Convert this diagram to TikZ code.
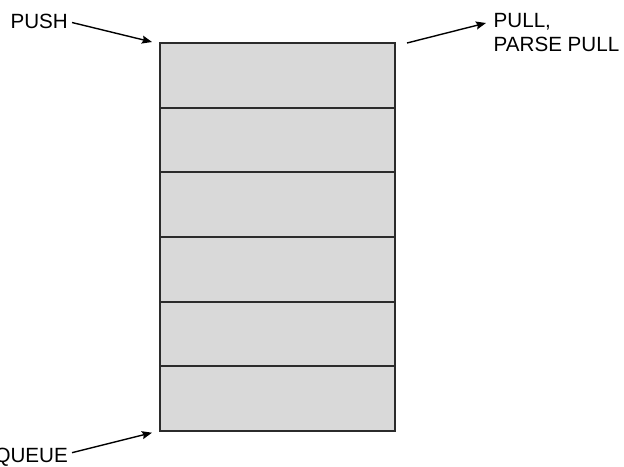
\documentclass[tikz,border=0pt]{standalone}
\usepackage{fontspec}
\setmainfont{Liberation Sans}
\usetikzlibrary{arrows.meta}
\definecolor{cellfill}{HTML}{D9D9D9}
\definecolor{cellline}{HTML}{2B2B2B}
\tikzset{
  cell/.style={fill=cellfill, rectangle, minimum width=235pt, minimum height=64.67pt, inner sep=0pt, outer sep=0pt},
  cellborder/.style={draw=cellline, line width=1.8pt},
  lbl/.style={inner sep=0pt, font=\fontsize{20.6}{24}\selectfont},
  ptr/.style={line width=1.4pt, -{Stealth[length=10pt,width=8pt,inset=1.5pt]}}
}
\begin{document}
\begin{tikzpicture}[x=1pt,y=-1pt]
\useasboundingbox (0,0) rectangle (624,466);
\foreach \i in {1,...,6} {
  \node[cell] (r\i) at (277.5, {43+64.67*(\i-0.5)}) {};
}
\foreach \i in {1,...,6} {
  \draw[cellborder] (r\i.north west) rectangle (r\i.south east);
}
\node[lbl, anchor=base east] (push) at (68,28.3) {PUSH};
\node[lbl, anchor=base east] (queue) at (68,462) {QUEUE};
\node[lbl, anchor=north west, align=left] (pull) at (493.5,13.5) {PULL,\\PARSE PULL};
\coordinate (pushstart) at (72,22.5);
\coordinate (pushend) at (152,42);
\coordinate (pullstart) at (407,43);
\coordinate (pulltip) at (486,23);
\coordinate (queuestart) at (72,452.7);
\coordinate (queueend) at (152,432.7);
\draw[ptr] (pushstart) -- (pushend);
\draw[ptr] (pullstart) -- (pulltip);
\draw[ptr] (queuestart) -- (queueend);
\end{tikzpicture}
\end{document}
